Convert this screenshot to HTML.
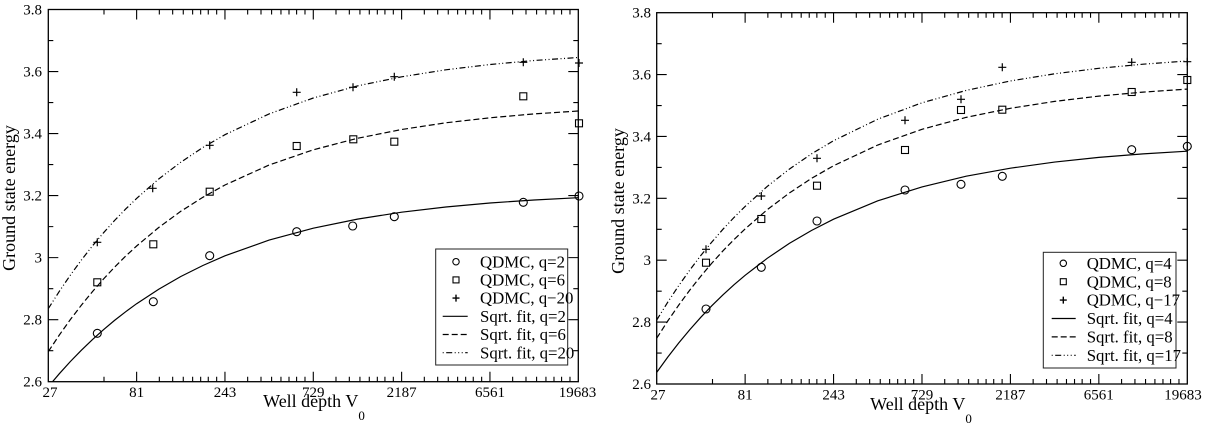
<!DOCTYPE html>
<html>
<head>
<meta charset="utf-8">
<style>
html,body{margin:0;padding:0;background:#fff;}
svg{display:block;font-family:"Liberation Serif","DejaVu Serif",serif;}
svg text{font-family:"Liberation Serif","DejaVu Serif",serif;fill:#000;}
</style>
</head>
<body>
<svg width="1212" height="425" viewBox="0 0 1212 425" xmlns="http://www.w3.org/2000/svg" font-family="Liberation Serif, DejaVu Serif, serif">
<defs>
<clipPath id="cl"><rect x="48.3" y="9.5" width="530" height="372.2"/></clipPath>
<clipPath id="cr"><rect x="656.7" y="12.7" width="530.6" height="371.3"/></clipPath>
<circle id="mc" cx="0" cy="0" r="4" fill="none" stroke="#000" stroke-width="1.1"/>
<rect id="ms" x="-3.5" y="-3.5" width="7" height="7" fill="none" stroke="#000" stroke-width="1.1"/>
<path id="mp" d="M-4,0H4M0,-4V4" stroke="#000" stroke-width="1.2" fill="none"/>
</defs>
<rect width="1212" height="425" fill="#fff"/>

<!-- LEFT PLOT -->
<g fill="none" stroke="#000" stroke-width="1.1">
<rect x="48.3" y="9.5" width="530" height="372.2" stroke-width="1.3"/>
<path d="M136.63,381.7v-10M224.96,381.7v-10M313.29,381.7v-10M401.62,381.7v-10M489.95,381.7v-10
M136.63,9.5v10M224.96,9.5v10M313.29,9.5v10M401.62,9.5v10M489.95,9.5v10"/>
<path d="M104,381.7v-5M159.33,381.7v-5M172.67,381.7v-5M183.27,381.7v-5M192.63,381.7v-5M200.67,381.7v-5M208.27,381.7v-5M216.66,381.7v-5
M247.66,381.7v-5M261,381.7v-5M271.6,381.7v-5M280.96,381.7v-5M289,381.7v-5M296.6,381.7v-5M304.99,381.7v-5
M335.99,381.7v-5M349.33,381.7v-5M359.93,381.7v-5M369.29,381.7v-5M377.33,381.7v-5M384.93,381.7v-5M393.32,381.7v-5
M424.32,381.7v-5M437.66,381.7v-5M448.26,381.7v-5M457.62,381.7v-5M465.66,381.7v-5M473.26,381.7v-5M481.65,381.7v-5
M512.65,381.7v-5M525.99,381.7v-5M536.59,381.7v-5M545.95,381.7v-5M553.99,381.7v-5M561.59,381.7v-5M569.98,381.7v-5
M104,9.5v5M159.33,9.5v5M172.67,9.5v5M183.27,9.5v5M192.63,9.5v5M200.67,9.5v5M208.27,9.5v5M216.66,9.5v5
M247.66,9.5v5M261,9.5v5M271.6,9.5v5M280.96,9.5v5M289,9.5v5M296.6,9.5v5M304.99,9.5v5
M335.99,9.5v5M349.33,9.5v5M359.93,9.5v5M369.29,9.5v5M377.33,9.5v5M384.93,9.5v5M393.32,9.5v5
M424.32,9.5v5M437.66,9.5v5M448.26,9.5v5M457.62,9.5v5M465.66,9.5v5M473.26,9.5v5M481.65,9.5v5
M512.65,9.5v5M525.99,9.5v5M536.59,9.5v5M545.95,9.5v5M553.99,9.5v5M561.59,9.5v5M569.98,9.5v5"/>
<path d="M48.3,71.53h10M48.3,133.57h10M48.3,195.6h10M48.3,257.63h10M48.3,319.67h10
M578.3,71.53h-10M578.3,133.57h-10M578.3,195.6h-10M578.3,257.63h-10M578.3,319.67h-10
M48.3,40.52h5M48.3,102.55h5M48.3,164.58h5M48.3,226.62h5M48.3,288.65h5M48.3,350.68h5
M578.3,40.52h-5M578.3,102.55h-5M578.3,164.58h-5M578.3,226.62h-5M578.3,288.65h-5M578.3,350.68h-5"/>
</g>
<g text-anchor="end" font-family="Liberation Serif, serif" font-size="15">
<text x="42" y="14.5">3.8</text>
<text x="42" y="76.5">3.6</text>
<text x="42" y="138.6">3.4</text>
<text x="42" y="200.6">3.2</text>
<text x="42" y="262.6">3</text>
<text x="42" y="324.7">2.8</text>
<text x="42" y="386.7">2.6</text>
</g>
<g text-anchor="middle" font-family="Liberation Serif, serif" font-size="15">
<text x="50" y="397">27</text>
<text x="136.6" y="397">81</text>
<text x="225" y="397">243</text>
<text x="313.3" y="397">729</text>
<text x="401.6" y="397">2187</text>
<text x="490" y="397">6561</text>
<text x="577.5" y="397">19683</text>
</g>
<text font-family="Liberation Serif, serif" font-size="18" x="314" y="407" text-anchor="middle">Well depth V<tspan font-size="13" dy="13">0</tspan></text>
<text font-family="Liberation Serif, serif" font-size="18" transform="translate(15,198) rotate(-90)" text-anchor="middle">Ground state energy</text>

<g clip-path="url(#cl)" fill="none" stroke="#000" stroke-width="1.2">
<polyline points="48.3,386.7 59.34,373.7 70.38,361.5 81.42,350.2 92.47,339.6 103.51,329.7 114.55,320.4 125.59,311.8 136.63,303.7 158.71,289.2 180.8,276.5 202.88,265.5 224.96,255.8 269.13,240.1 313.29,228.2 357.46,219.1 401.62,212.2 445.79,207.0 489.95,203.0 534.12,200.0 578.28,197.7"/>
<polyline stroke-dasharray="6,3" points="48.3,351.6 59.34,335.0 70.38,319.5 81.42,305.1 92.47,291.6 103.51,279.0 114.55,267.2 125.59,256.2 136.63,246.0 158.71,227.5 180.8,211.3 202.88,197.3 224.96,185.0 269.13,165.0 313.29,149.8 357.46,138.3 401.62,129.5 445.79,122.8 489.95,117.8 534.12,113.9 578.28,111.0"/>
<polyline stroke-dasharray="6,2.5,1,2.5,1,2.5" points="48.3,308.6 59.34,291.3 70.38,275.1 81.42,260.0 92.47,245.9 103.51,232.8 114.55,220.5 125.59,209.1 136.63,198.4 158.71,179.0 180.8,162.2 202.88,147.5 224.96,134.7 269.13,113.9 313.29,98.0 357.46,85.9 401.62,76.8 445.79,69.8 489.95,64.5 534.12,60.5 578.28,57.5"/>
</g>
<g>
<use href="#mc" x="97.3" y="333.3"/><use href="#mc" x="153.3" y="301.7"/><use href="#mc" x="209.7" y="255.7"/><use href="#mc" x="296.7" y="231.7"/><use href="#mc" x="352.7" y="226"/><use href="#mc" x="394.3" y="216.7"/><use href="#mc" x="523.3" y="202.3"/><use href="#mc" x="579" y="196"/>
<use href="#ms" x="97.3" y="282.3"/><use href="#ms" x="153.3" y="244.3"/><use href="#ms" x="209.7" y="191.7"/><use href="#ms" x="296.7" y="146"/><use href="#ms" x="353.3" y="139.3"/><use href="#ms" x="394.3" y="141.7"/><use href="#ms" x="523.3" y="96.3"/><use href="#ms" x="579" y="123.3"/>
<use href="#mp" x="97.3" y="242.3"/><use href="#mp" x="152.7" y="188.3"/><use href="#mp" x="209.7" y="145.3"/><use href="#mp" x="296.7" y="92.3"/><use href="#mp" x="353" y="87.3"/><use href="#mp" x="394.3" y="76.7"/><use href="#mp" x="523.3" y="62.3"/><use href="#mp" x="579" y="63"/>
</g>
<rect x="435.7" y="249" width="132" height="116" fill="#fff" stroke="#222" stroke-width="1"/>
<circle cx="456" cy="261.7" r="3.2" fill="none" stroke="#000" stroke-width="1.1"/>
<rect x="453" y="276.9" width="6" height="6" fill="none" stroke="#000" stroke-width="1.1"/>
<path d="M452.5,298.1h7M456,294.6v7" stroke="#000" stroke-width="1.4"/>
<g fill="none" stroke="#000" stroke-width="1.2">
<path d="M442.7,316.3H467.7"/>
<path d="M442.7,334.5H467.7" stroke-dasharray="6,3"/>
<path d="M442.7,352.7H467.7" stroke-dasharray="1,2.5,6,2.5,1,2.5,1,2.5"/>
</g>
<g font-family="Liberation Serif, serif" font-size="16.8">
<text x="480" y="267.3">QDMC, q=2</text>
<text x="480" y="285.5">QDMC, q=6</text>
<text x="480" y="303.7">QDMC, q−20</text>
<text x="480" y="321.9">Sqrt. fit, q=2</text>
<text x="480" y="340.1">Sqrt. fit, q=6</text>
<text x="480" y="358.3">Sqrt. fit, q=20</text>
</g>

<!-- RIGHT PLOT -->
<g fill="none" stroke="#000" stroke-width="1.1">
<rect x="656.7" y="12.7" width="530.6" height="371.3" stroke-width="1.3"/>
<path d="M745.13,384v-10M833.56,384v-10M921.99,384v-10M1010.42,384v-10M1098.85,384v-10
M745.13,12.7v10M833.56,12.7v10M921.99,12.7v10M1010.42,12.7v10M1098.85,12.7v10"/>
<path d="M712.5,384v-5M767.86,384v-5M781.21,384v-5M791.82,384v-5M801.19,384v-5M809.24,384v-5M816.85,384v-5M825.25,384v-5
M856.29,384v-5M869.64,384v-5M880.25,384v-5M889.62,384v-5M897.67,384v-5M905.28,384v-5M913.68,384v-5
M944.72,384v-5M958.07,384v-5M968.68,384v-5M978.05,384v-5M986.1,384v-5M993.71,384v-5M1002.11,384v-5
M1033.15,384v-5M1046.5,384v-5M1057.11,384v-5M1066.48,384v-5M1074.53,384v-5M1082.14,384v-5M1090.54,384v-5
M1121.58,384v-5M1134.93,384v-5M1145.54,384v-5M1154.91,384v-5M1162.96,384v-5M1170.57,384v-5M1178.97,384v-5
M712.5,12.7v5M767.86,12.7v5M781.21,12.7v5M791.82,12.7v5M801.19,12.7v5M809.24,12.7v5M816.85,12.7v5M825.25,12.7v5
M856.29,12.7v5M869.64,12.7v5M880.25,12.7v5M889.62,12.7v5M897.67,12.7v5M905.28,12.7v5M913.68,12.7v5
M944.72,12.7v5M958.07,12.7v5M968.68,12.7v5M978.05,12.7v5M986.1,12.7v5M993.71,12.7v5M1002.11,12.7v5
M1033.15,12.7v5M1046.5,12.7v5M1057.11,12.7v5M1066.48,12.7v5M1074.53,12.7v5M1082.14,12.7v5M1090.54,12.7v5
M1121.58,12.7v5M1134.93,12.7v5M1145.54,12.7v5M1154.91,12.7v5M1162.96,12.7v5M1170.57,12.7v5M1178.97,12.7v5"/>
<path d="M656.7,74.58h10M656.7,136.46h10M656.7,198.34h10M656.7,260.22h10M656.7,322.1h10
M1187.3,74.58h-10M1187.3,136.46h-10M1187.3,198.34h-10M1187.3,260.22h-10M1187.3,322.1h-10
M656.7,43.64h5M656.7,105.52h5M656.7,167.4h5M656.7,229.28h5M656.7,291.16h5M656.7,353.04h5
M1187.3,43.64h-5M1187.3,105.52h-5M1187.3,167.4h-5M1187.3,229.28h-5M1187.3,291.16h-5M1187.3,353.04h-5"/>
</g>
<g text-anchor="end" font-family="Liberation Serif, serif" font-size="15">
<text x="651" y="17.7">3.8</text>
<text x="651" y="79.6">3.6</text>
<text x="651" y="141.5">3.4</text>
<text x="651" y="203.3">3.2</text>
<text x="651" y="265.2">3</text>
<text x="651" y="327.1">2.8</text>
<text x="651" y="389">2.6</text>
</g>
<g text-anchor="middle" font-family="Liberation Serif, serif" font-size="15">
<text x="658" y="399.5">27</text>
<text x="745.1" y="399.5">81</text>
<text x="833.6" y="399.5">243</text>
<text x="922" y="399.5">729</text>
<text x="1010.4" y="399.5">2187</text>
<text x="1098.8" y="399.5">6561</text>
<text x="1183" y="399.5">19683</text>
</g>
<text font-family="Liberation Serif, serif" font-size="18" x="921" y="410" text-anchor="middle">Well depth V<tspan font-size="13" dy="13">0</tspan></text>
<text font-family="Liberation Serif, serif" font-size="18" transform="translate(624,201) rotate(-90)" text-anchor="middle">Ground state energy</text>

<g clip-path="url(#cr)" fill="none" stroke="#000" stroke-width="1.2">
<polyline points="656.7,372.4 667.75,357.1 678.8,342.9 689.86,329.6 700.9,317.2 711.97,305.6 723.0,294.8 734.08,284.7 745.13,275.3 767.24,258.3 789.35,243.4 811.45,230.5 833.56,219.2 877.78,200.8 921.99,186.9 966.2,176.2 1010.42,168.2 1054.64,162.05 1098.85,157.4 1143.07,153.85 1187.28,151.2"/>
<polyline stroke-dasharray="6,3" points="656.7,338.2 667.75,321.0 678.8,305.0 689.86,290.0 700.9,276.1 711.97,263.0 723.0,250.8 734.08,239.5 745.13,228.9 767.24,209.7 789.35,193.0 811.45,178.4 833.56,165.75 877.78,145.0 921.99,129.3 966.2,117.35 1010.42,108.3 1054.64,101.4 1098.85,96.1 1143.07,92.1 1187.28,89.1"/>
<polyline stroke-dasharray="6,2.5,1,2.5,1,2.5" points="656.7,320.0 667.75,302.2 678.8,285.5 689.86,270.0 700.9,255.4 711.97,241.9 723.0,229.2 734.08,217.4 745.13,206.4 767.24,186.4 789.35,169.1 811.45,153.9 833.56,140.7 877.78,119.2 921.99,102.8 966.2,90.4 1010.42,80.95 1054.64,73.8 1098.85,68.3 1143.07,64.2 1187.28,61.0"/>
</g>
<g>
<use href="#mc" x="706" y="309"/><use href="#mc" x="761.3" y="267.3"/><use href="#mc" x="817" y="221"/><use href="#mc" x="905" y="190"/><use href="#mc" x="961" y="184.3"/><use href="#mc" x="1002.3" y="176.3"/><use href="#mc" x="1131.7" y="149.7"/><use href="#mc" x="1187.3" y="146.3"/>
<use href="#ms" x="706" y="262.7"/><use href="#ms" x="761.3" y="219"/><use href="#ms" x="817" y="185.7"/><use href="#ms" x="905" y="150"/><use href="#ms" x="961" y="110"/><use href="#ms" x="1002.3" y="109.7"/><use href="#ms" x="1131.7" y="92"/><use href="#ms" x="1187.3" y="80"/>
<use href="#mp" x="706" y="249.3"/><use href="#mp" x="761.3" y="196"/><use href="#mp" x="817" y="158.3"/><use href="#mp" x="905" y="120.3"/><use href="#mp" x="961" y="99.3"/><use href="#mp" x="1002.3" y="67.3"/><use href="#mp" x="1131.7" y="62.3"/><use href="#mp" x="1187.3" y="61.7"/>
</g>
<rect x="1043.3" y="252.3" width="132.7" height="115.7" fill="#fff" stroke="#222" stroke-width="1"/>
<circle cx="1063.3" cy="263.3" r="3.2" fill="none" stroke="#000" stroke-width="1.1"/>
<rect x="1060.3" y="278.7" width="6" height="6" fill="none" stroke="#000" stroke-width="1.1"/>
<path d="M1059.8,300.1h7M1063.3,296.6v7" stroke="#000" stroke-width="1.4"/>
<g fill="none" stroke="#000" stroke-width="1.2">
<path d="M1051.7,318.5H1075.7"/>
<path d="M1051.7,336.9H1075.7" stroke-dasharray="6,3"/>
<path d="M1051.7,355.3H1075.7" stroke-dasharray="1,2.5,6,2.5,1,2.5,1,2.5"/>
</g>
<g font-family="Liberation Serif, serif" font-size="16.8">
<text x="1086.7" y="268.9">QDMC, q=4</text>
<text x="1086.7" y="287.3">QDMC, q=8</text>
<text x="1086.7" y="305.7">QDMC, q−17</text>
<text x="1086.7" y="324.1">Sqrt. fit, q=4</text>
<text x="1086.7" y="342.5">Sqrt. fit, q=8</text>
<text x="1086.7" y="360.9">Sqrt. fit, q=17</text>
</g>
</svg>
</body>
</html>
